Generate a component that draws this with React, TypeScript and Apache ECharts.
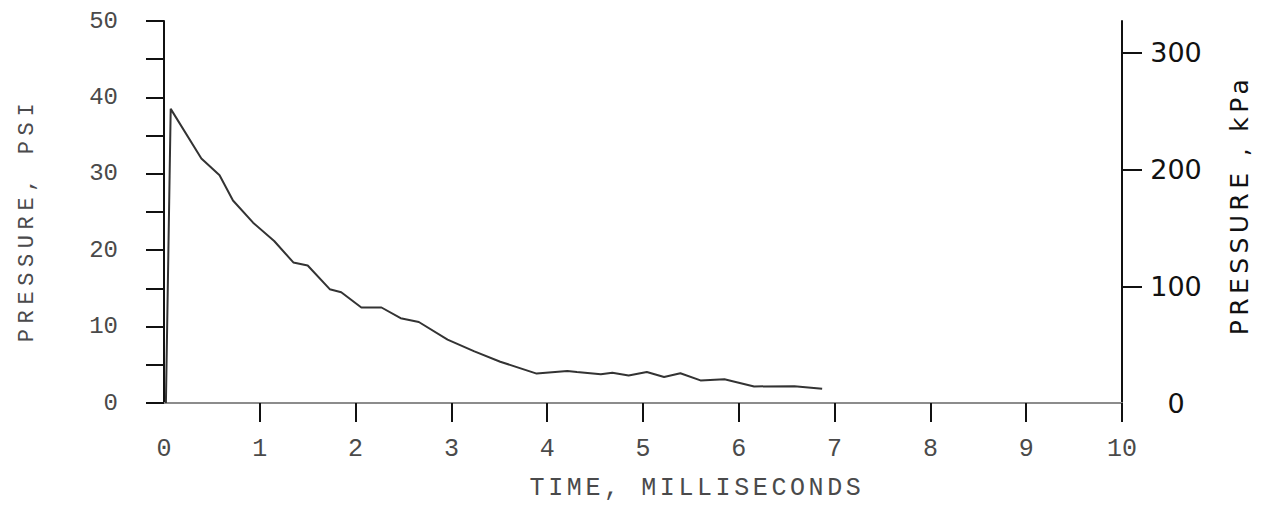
import React, { useEffect, useRef } from "react";
import * as echarts from "echarts";

// Blast pressure record: time in milliseconds vs. overpressure in psi
const timeMs = [
  0.02, 0.07, 0.39, 0.58, 0.72, 0.93, 1.15, 1.35, 1.5, 1.73, 1.85, 2.06, 2.27,
  2.47, 2.66, 2.96, 3.24, 3.51, 3.89, 4.21, 4.31, 4.56, 4.68, 4.85, 5.04, 5.22,
  5.39, 5.6, 5.85, 6.16, 6.58, 6.87,
];
const pressurePsi = [
  0, 38.5, 32.0, 29.8, 26.5, 23.6, 21.2, 18.4, 18.0, 14.9, 14.5, 12.5, 12.5,
  11.1, 10.6, 8.3, 6.75, 5.4, 3.85, 4.2, 4.05, 3.75, 3.97, 3.6, 4.05, 3.4, 3.9,
  2.96, 3.1, 2.17, 2.2, 1.87,
];

const timeTicks = [1, 2, 3, 4, 5, 6, 7, 8, 9, 10];
const timeLabels = [0, 1, 2, 3, 4, 5, 6, 7, 8, 9, 10];
const psiTicks = [0, 5, 10, 15, 20, 25, 30, 35, 40, 45, 50];
const psiLabels = [0, 10, 20, 30, 40, 50];
const kpaTicks = [100, 200, 300];
const kpaLabels = [0, 100, 200, 300];

const xTitle = "TIME, MILLISECONDS";
const leftTitle = "PRESSURE, PSI";
const rightTitle = "PRESSURE , kPa";

const monoFont = "'Liberation Mono', 'DejaVu Sans Mono', monospace";
const sansFont = "'DejaVu Sans', sans-serif";
const grey = "#4a4a4a";

// Each axis title gets its own near-identical fill so the typewriter-style
// letter spacing below can be applied to it alone.
const xTitleFill = "#4a4a4b";
const leftTitleFill = "#4a4a4c";
const rightTitleFill = "#111112";

const titleSpacingCss = `
.blast-chart text[fill="${xTitleFill}"] { letter-spacing: 3.6px; }
.blast-chart text[fill="${leftTitleFill}"] { letter-spacing: 5.6px; }
.blast-chart text[fill="${rightTitleFill}"] { letter-spacing: 4.4px; }
`;

export default function App() {
  const ref = useRef<HTMLDivElement>(null);

  useEffect(() => {
    if (!ref.current) return;
    const chart = echarts.init(ref.current, undefined, { renderer: "svg" });
    const points = timeMs.map((t, i) => [t, pressurePsi[i]]);

    chart.setOption({
      animation: false,
      backgroundColor: "#ffffff",
      grid: { left: 164, right: 146, top: 21, bottom: 102, containLabel: false },
      xAxis: {
        type: "value",
        min: 0,
        max: 10,
        interval: 1,
        splitLine: { show: false },
        axisLine: { show: true, lineStyle: { color: "#8c8c8c", width: 2 } },
        axisTick: {
          show: true,
          inside: false,
          length: 19,
          customValues: timeTicks,
          lineStyle: { color: "#111", width: 2 },
        },
        axisLabel: {
          customValues: timeLabels,
          margin: 34,
          fontFamily: monoFont,
          fontSize: 25,
          color: grey,
        },
      },
      yAxis: [
        {
          type: "value",
          position: "left",
          min: 0,
          max: 50,
          interval: 5,
          splitLine: { show: false },
          axisLine: { show: true, lineStyle: { color: "#111", width: 2 } },
          axisTick: {
            show: true,
            length: 18,
            customValues: psiTicks,
            lineStyle: { color: "#111", width: 2 },
          },
          axisLabel: {
            customValues: psiLabels,
            margin: 46,
            fontFamily: monoFont,
            fontSize: 24,
            color: grey,
          },
        },
        {
          type: "value",
          position: "right",
          min: 0,
          max: 327.4,
          splitLine: { show: false },
          axisLine: { show: true, lineStyle: { color: "#111", width: 2 } },
          axisTick: {
            show: true,
            length: 20,
            customValues: kpaTicks,
            lineStyle: { color: "#111", width: 2 },
          },
          axisLabel: {
            customValues: kpaLabels,
            margin: 54,
            align: "center",
            fontFamily: sansFont,
            fontSize: 27,
            color: "#111",
          },
        },
      ],
      graphic: [
        {
          type: "text",
          x: 697,
          y: 488,
          style: {
            text: xTitle,
            font: `25px ${monoFont}`,
            fill: xTitleFill,
            textAlign: "center",
            textVerticalAlign: "middle",
          },
        },
        {
          type: "text",
          x: 27,
          y: 220,
          rotation: Math.PI / 2,
          style: {
            text: leftTitle,
            font: `22px ${monoFont}`,
            fill: leftTitleFill,
            textAlign: "center",
            textVerticalAlign: "middle",
          },
        },
        {
          type: "text",
          x: 1239,
          y: 205,
          rotation: Math.PI / 2,
          style: {
            text: rightTitle,
            font: `25px ${sansFont}`,
            fill: rightTitleFill,
            textAlign: "center",
            textVerticalAlign: "middle",
          },
        },
      ],
      series: [
        {
          type: "line",
          yAxisIndex: 0,
          data: points,
          showSymbol: false,
          symbol: "none",
          lineStyle: { color: "#333", width: 2 },
        },
      ],
    });

    return () => chart.dispose();
  }, []);

  return (
    <>
      <style>{titleSpacingCss}</style>
      <div
        ref={ref}
        className="blast-chart"
        style={{ position: "absolute", left: 0, top: 0, width: 1268, height: 505 }}
      />
    </>
  );
}
